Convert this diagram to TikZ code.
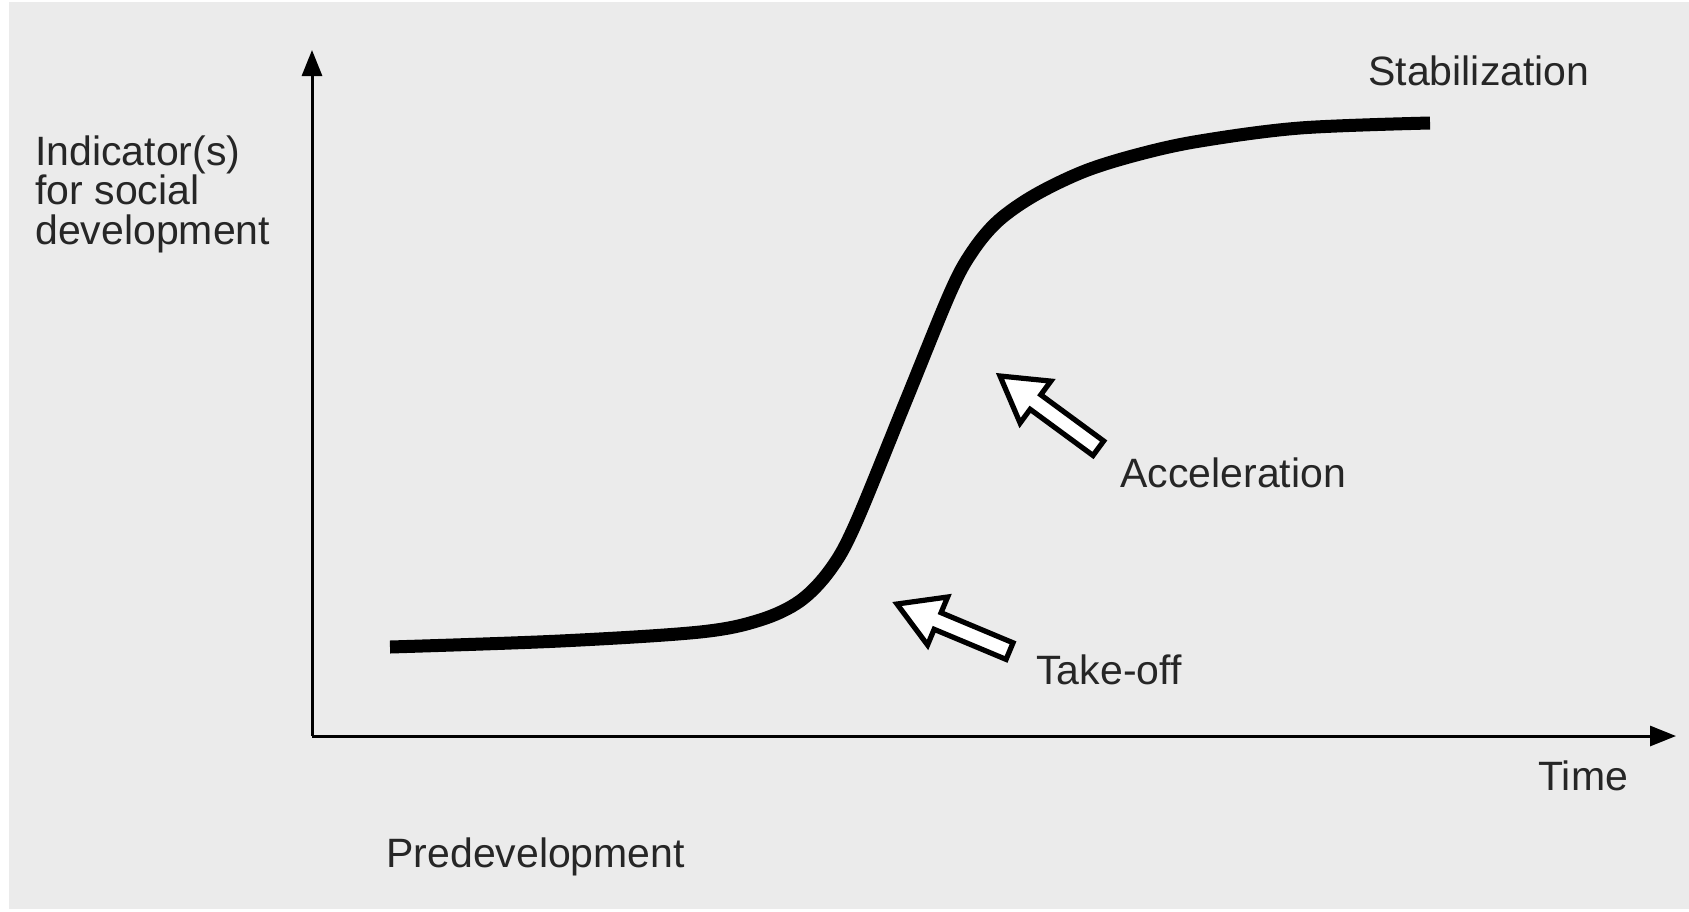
\documentclass[tikz,border=0pt]{standalone}
\usepackage{fontspec}
\setmainfont{Liberation Sans}
\usetikzlibrary{arrows.meta}
\begin{document}
\begin{tikzpicture}[x=0.5pt,y=-0.5pt,
  lbl/.style={anchor=base west,inner sep=0pt,font=\fontsize{20.5}{20}\selectfont,text=black!85},
  axis/.style={line width=1.5pt,-{Triangle[length=13pt,width=10pt]}},
  curve/.style={line width=6.5pt,line cap=butt,line join=round},
  hollow/.style={draw=black,fill=white,line width=2.6pt,line join=miter}]
\useasboundingbox (0,0) rectangle (1689,911);
\fill[white] (0,0) rectangle (1689,911);
\fill[black!8] (9,2) rectangle (1689,909);
\coordinate (origin) at (312,736);
\coordinate (ytip) at (312,50);
\coordinate (xtip) at (1676,736);
\draw[axis] (origin) -- (ytip);
\draw[axis] (origin) -- (xtip);
\draw[curve] plot[smooth,tension=0.55] coordinates {(390,647) (560,641) (700,632) (760,620) (800,601) (830,570) (855,525) (905,403) (950,293) (972,252) (998,221) (1035,195) (1085,171) (1140,154) (1200,141) (1300,128) (1430,123)};
% hollow arrows
\begin{scope}[shift={(1000,376)},rotate=-36.3]
\path[hollow] (0,0) -- (44,26) -- (44,9) -- (122,9) -- (122,-9) -- (44,-9) -- (44,-26) -- cycle;
\end{scope}
\begin{scope}[shift={(897,604)},rotate=-22.7]
\path[hollow] (0,0) -- (44,26) -- (44,9) -- (122,9) -- (122,-9) -- (44,-9) -- (44,-26) -- cycle;
\end{scope}
\node[lbl] (stab) at (1368,85) {Stabilization};
\node[lbl,align=left,anchor=north west] (ind) at (35,135) {Indicator(s)\\[-0.2pt]for social\\[-0.2pt]development};
\node[lbl] (acc) at (1120,487) {Acceleration};
\node[lbl] (take) at (1036,684) {Take-off};
\node[lbl] (time) at (1538,790) {Time};
\node[lbl] (pre) at (386,867) {Predevelopment};
\end{tikzpicture}
\end{document}
